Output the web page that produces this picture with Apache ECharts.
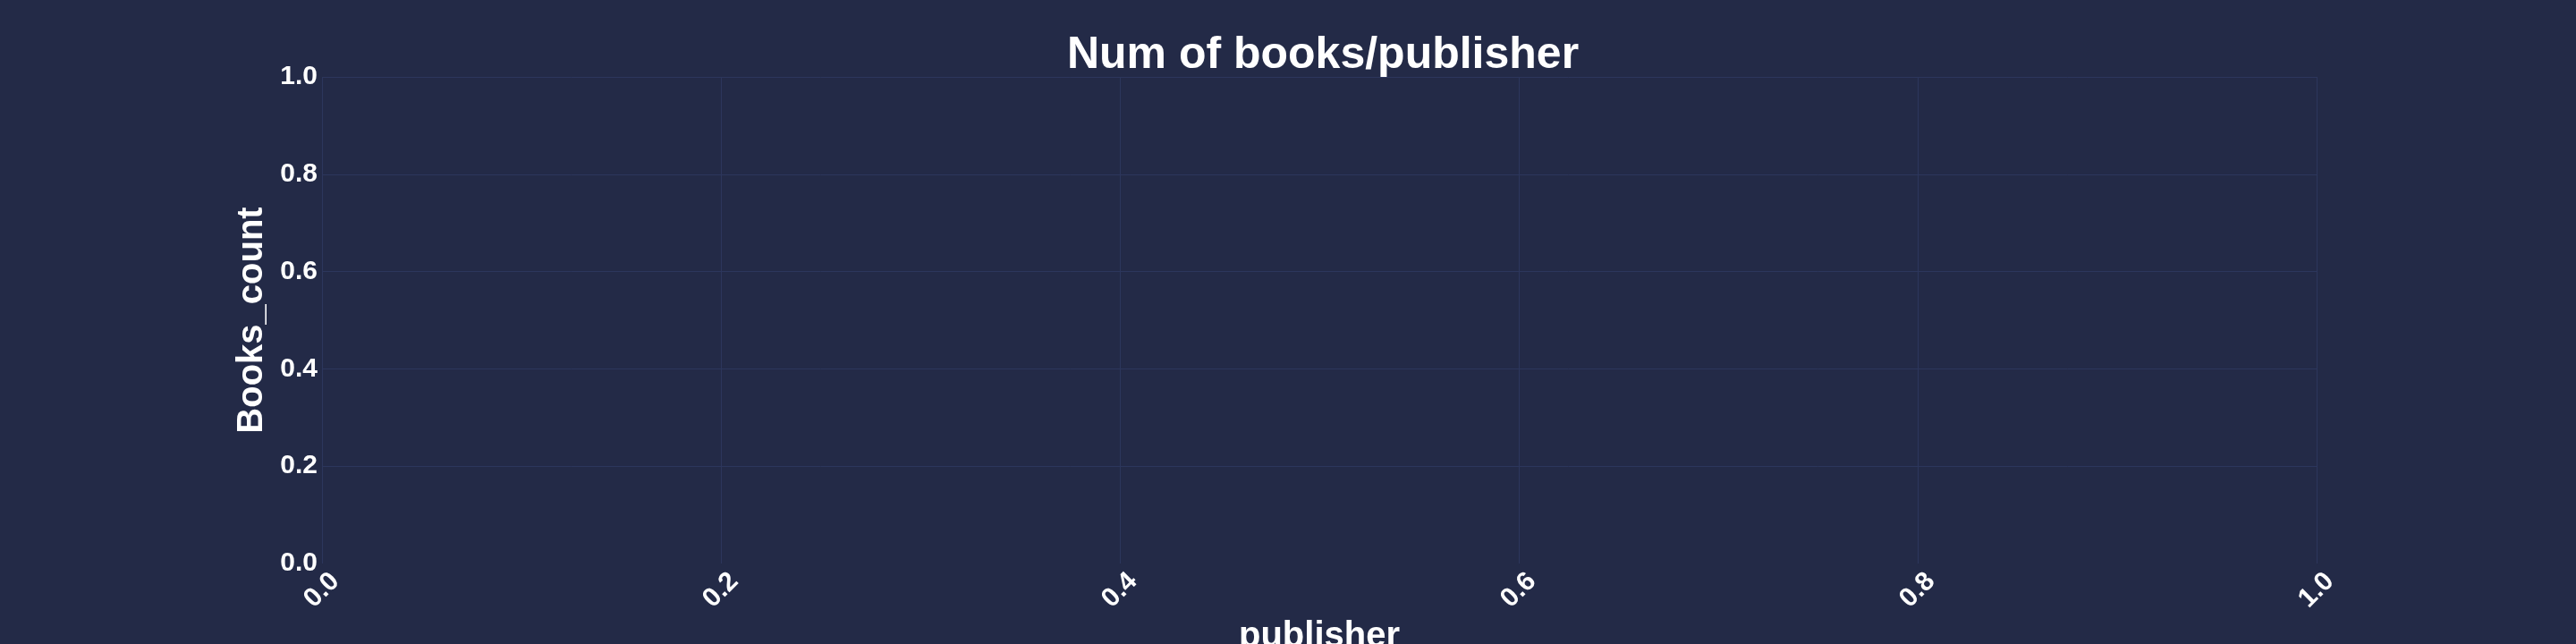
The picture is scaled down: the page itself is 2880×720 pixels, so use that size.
<!DOCTYPE html>
<html>
<head>
<meta charset="utf-8">
<script src="https://cdn.jsdelivr.net/npm/echarts@6/dist/echarts.min.js"></script>
<style>
  html, body { margin: 0; padding: 0; background: #232a47; }
  #chart { width: 2880px; height: 720px; }
</style>
</head>
<body>
<div id="chart"></div>
<script>
// Data (the reference chart is empty: no publishers / counts plotted)
const publishers = [];
const bookCounts = [];
const xTickLabels = ['0.0', '0.2', '0.4', '0.6', '0.8', '1.0'];
const yTickLabels = ['0.0', '0.2', '0.4', '0.6', '0.8', '1.0'];
const titleText = 'Num of books/publisher';
const xAxisTitle = 'publisher';
const yAxisTitle = 'Books_count';

const BG = '#232a47';
const GRID = '#2c365c';
const FONT = "'Liberation Sans', Arial, Helvetica, sans-serif";

const chart = echarts.init(document.getElementById('chart'), null, { renderer: 'canvas' });
chart.setOption({
  backgroundColor: BG,
  animation: false,
  textStyle: { fontFamily: FONT, color: '#ffffff' },
  title: {
    text: titleText,
    left: 1474,
    textAlign: 'center',
    top: 32,
    textStyle: { color: '#ffffff', fontSize: 50, fontWeight: 'bold', fontFamily: FONT }
  },
  grid: { left: 360, right: 290, top: 86, bottom: 90, containLabel: false, outerBoundsMode: 'none' },
  xAxis: {
    type: 'value',
    min: 0, max: 1, interval: 0.2,
    name: xAxisTitle,
    nameLocation: 'middle',
    nameGap: 60,
    nameTextStyle: { color: '#ffffff', fontSize: 40, fontWeight: 'bold', fontFamily: FONT },
    axisLine: { show: false },
    axisTick: { show: false },
    axisLabel: {
      rotate: 45,
      margin: 30,
      align: 'center',
      verticalAlign: 'middle',
      color: '#ffffff',
      fontSize: 30,
      fontWeight: 'bold',
      fontFamily: FONT,
      formatter: (v, i) => xTickLabels[Math.round(v / 0.2)]
    },
    splitLine: { show: true, lineStyle: { color: GRID, width: 1 } }
  },
  yAxis: {
    type: 'value',
    min: 0, max: 1, interval: 0.2,
    name: yAxisTitle,
    nameLocation: 'middle',
    nameGap: 44,
    nameRotate: 90,
    nameTextStyle: { color: '#ffffff', fontSize: 40, fontWeight: 'bold', fontFamily: FONT },
    axisLine: { show: false },
    axisTick: { show: false },
    axisLabel: {
      margin: 5,
      color: '#ffffff',
      fontSize: 30,
      fontWeight: 'bold',
      fontFamily: FONT,
      formatter: (v) => yTickLabels[Math.round(v / 0.2)]
    },
    splitLine: {
      show: true,
      lineStyle: { color: ['rgba(0,0,0,0)', GRID, GRID, GRID, GRID, GRID], width: 1 }
    }
  },
  series: [{
    type: 'bar',
    name: yAxisTitle,
    data: publishers.map((p, i) => [p, bookCounts[i]])
  }]
});
</script>
</body>
</html>
